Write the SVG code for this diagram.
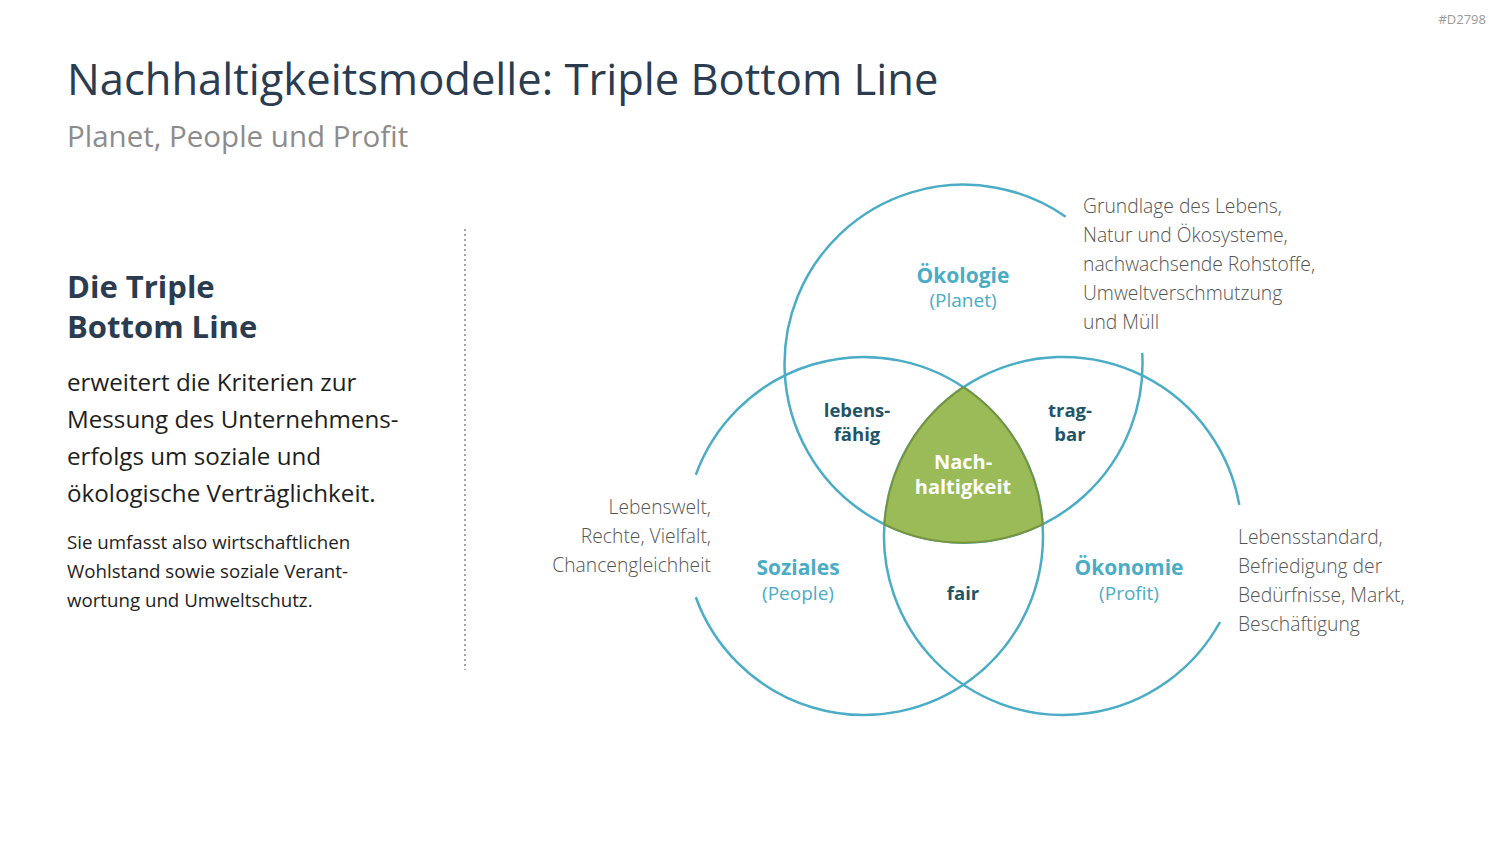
<svg xmlns="http://www.w3.org/2000/svg" width="1500" height="844" viewBox="0 0 1500 844">
<style>
text{font-family:"Open Sans","Noto Sans","Liberation Sans",sans-serif}
.title{font-size:43.5px;fill:#2B3C50}
.sub{font-size:29.5px;fill:#8C8C8C}
.head{font-size:31px;font-weight:700;fill:#2B3C50}
.body{font-size:24.2px;fill:#1E1E1E}
.small{font-size:18.7px;fill:#1E1E1E}
.tag{font-size:13px;fill:#9A9A9A}
.circ{fill:none;stroke:#4BACC6;stroke-width:2.5}
.lbl{font-size:21px;font-weight:700;fill:#4BACC6;text-anchor:middle}
.lbl2{font-size:19px;fill:#4BACC6;text-anchor:middle}
.ovl{font-size:18.5px;font-weight:700;fill:#1F5567;text-anchor:middle}
.core{font-size:20px;font-weight:700;fill:#FFFFFF;text-anchor:middle}
.desc{font-size:19.3px;font-weight:300;fill:#555555}
</style>
<rect width="1500" height="844" fill="#FFFFFF"/>
<text class="tag" x="1486" y="24" text-anchor="end">#D2798</text>
<g id="header">
<text class="title" x="67" y="95">Nachhaltigkeitsmodelle: Triple Bottom Line</text>
<text class="sub" x="67" y="147">Planet, People und Profit</text>
</g>
<g id="left-text">
<text class="head" x="67" y="298">Die Triple</text>
<text class="head" x="67" y="338">Bottom Line</text>
<text class="body" x="67" y="391">erweitert die Kriterien zur</text>
<text class="body" x="67" y="428">Messung des Unternehmens-</text>
<text class="body" x="67" y="465">erfolgs um soziale und</text>
<text class="body" x="67" y="502">ökologische Verträglichkeit.</text>
<text class="small" x="67" y="549">Sie umfasst also wirtschaftlichen</text>
<text class="small" x="67" y="578">Wohlstand sowie soziale Verant-</text>
<text class="small" x="67" y="607">wortung und Umweltschutz.</text>
</g>
<line id="divider" x1="465" y1="229" x2="465" y2="670" stroke="#A6A6A6" stroke-width="2" stroke-dasharray="2 3"/>
<g id="connectors">
<path id="circle-oekologie" class="circ" d="M 1142.2 352.8 A 179 179 0 1 1 1065.7 216.7"/>
<path id="circle-soziales" class="circ" d="M 695.8 474.8 A 179 179 0 1 1 695.8 597.2"/>
<path id="circle-oekonomie" class="circ" d="M 1220 622 A 179 179 0 1 1 1239.3 504.9"/>
</g>
<g id="node-nachhaltigkeit">
<path d="M 963.5 387.2 A 179 179 0 0 0 884.4 524.3 A 179 179 0 0 0 1042.6 524.3 A 179 179 0 0 0 963.5 387.2 Z" fill="#9BBB59" stroke="#77933C" stroke-width="2"/>
<text class="core" x="963" y="469">Nach-</text>
<text class="core" x="963" y="494">haltigkeit</text>
</g>
<g id="node-oekologie">
<text class="lbl" x="963" y="283">Ökologie</text>
<text class="lbl2" x="963" y="307">(Planet)</text>
</g>
<g id="node-soziales">
<text class="lbl" x="798" y="575">Soziales</text>
<text class="lbl2" x="798" y="600">(People)</text>
</g>
<g id="node-oekonomie">
<text class="lbl" x="1129" y="575">Ökonomie</text>
<text class="lbl2" x="1129" y="600">(Profit)</text>
</g>
<g id="node-lebensfaehig">
<text class="ovl" x="857" y="417">lebens-</text>
<text class="ovl" x="857" y="441">fähig</text>
</g>
<g id="node-tragbar">
<text class="ovl" x="1070" y="417">trag-</text>
<text class="ovl" x="1070" y="441">bar</text>
</g>
<g id="node-fair">
<text class="ovl" x="963" y="600">fair</text>
</g>
<g id="desc-oekologie">
<text class="desc" x="1083" y="213">Grundlage des Lebens,</text>
<text class="desc" x="1083" y="242">Natur und Ökosysteme,</text>
<text class="desc" x="1083" y="271">nachwachsende Rohstoffe,</text>
<text class="desc" x="1083" y="300">Umweltverschmutzung</text>
<text class="desc" x="1083" y="329">und Müll</text>
</g>
<g id="desc-soziales">
<text class="desc" x="711" y="514" text-anchor="end">Lebenswelt,</text>
<text class="desc" x="711" y="543" text-anchor="end">Rechte, Vielfalt,</text>
<text class="desc" x="711" y="572" text-anchor="end">Chancengleichheit</text>
</g>
<g id="desc-oekonomie">
<text class="desc" x="1238" y="544">Lebensstandard,</text>
<text class="desc" x="1238" y="573">Befriedigung der</text>
<text class="desc" x="1238" y="602">Bedürfnisse, Markt,</text>
<text class="desc" x="1238" y="631">Beschäftigung</text>
</g>
</svg>
